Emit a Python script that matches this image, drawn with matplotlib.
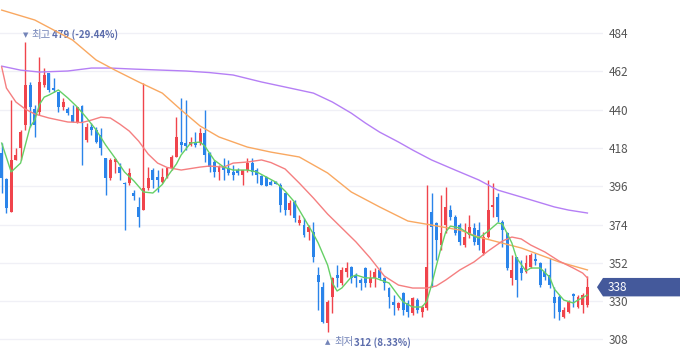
import numpy as np
import matplotlib.pyplot as plt
from matplotlib.patches import Polygon
from matplotlib import transforms

plt.rcParams['font.family'] = ['Noto Sans CJK KR', 'DejaVu Sans']

# daily candles (oldest -> newest)
opens = [415.1, 400.1, 381.2, 411.1, 418.0, 431.2, 454.1, 440.3, 438.6, 454.1,
         461.0, 452.4, 450.1, 441.5, 440.3, 436.9, 432.9, 442.1, 422.5, 430.0,
         428.3, 425.4, 412.2, 400.7, 410.0, 407.0, 397.8, 397.8, 392.1, 384.1,
         382.3, 395.0, 405.3, 401.3, 398.4, 401.3, 406.5, 412.8, 421.4, 420.8,
         419.7, 421.4, 420.8, 426.6, 415.1, 409.9, 404.2, 407.0, 406.5, 404.2,
         405.3, 402.4, 405.3, 409.3, 405.3, 401.9, 401.3, 398.4, 398.4, 396.7,
         392.1, 382.3, 386.9, 374.9, 373.7, 369.7, 369.7, 345.0, 338.1, 317.4,
         332.4, 345.0, 340.4, 346.7, 349.6, 345.0, 342.1, 349.0, 340.4, 343.3,
         347.9, 343.3, 337.5, 329.5, 326.0, 334.7, 328.9, 323.2, 330.6, 323.7,
         326.0, 381.2, 374.9, 362.2, 373.7, 382.3, 378.3, 373.7, 362.2, 368.0,
         372.0, 370.8, 357.6, 366.8, 384.1, 389.8, 375.4, 369.1, 343.3, 355.3,
         349.0, 346.7, 349.6, 354.2, 351.9, 346.7, 345.0, 332.4, 332.4, 320.9,
         323.7, 334.0, 326.6, 327.8, 327.8]
highs = [420.8, 400.7, 445.5, 418.0, 428.3, 479.0, 455.9, 442.6, 470.2, 463.9,
         461.0, 458.2, 450.1, 446.7, 441.5, 442.6, 441.5, 442.6, 432.3, 432.3,
         430.0, 429.4, 412.2, 412.2, 412.2, 409.3, 398.4, 406.5, 393.8, 389.8,
         455.3, 407.0, 406.5, 405.3, 406.5, 407.0, 413.9, 435.7, 446.7, 445.5,
         424.3, 427.1, 429.4, 439.8, 415.6, 411.1, 408.2, 412.2, 411.1, 408.2,
         406.5, 405.3, 412.2, 412.2, 406.5, 402.4, 401.9, 399.6, 399.0, 397.8,
         392.1, 388.1, 388.1, 379.5, 377.7, 373.7, 375.4, 349.6, 341.0, 330.6,
         343.8, 350.7, 349.6, 352.5, 350.1, 346.1, 343.3, 349.6, 347.9, 349.0,
         349.6, 343.8, 338.1, 333.5, 329.5, 335.2, 330.6, 332.4, 331.8, 327.8,
         396.7, 392.1, 375.4, 390.9, 395.5, 385.2, 379.5, 374.9, 374.9, 379.5,
         374.9, 375.4, 369.7, 399.6, 397.8, 392.1, 376.6, 369.7, 356.5, 355.3,
         353.6, 356.5, 357.6, 357.6, 352.5, 349.0, 354.8, 338.1, 333.5, 326.6,
         330.6, 334.7, 333.5, 334.7, 344.4]
lows = [392.1, 380.6, 381.2, 411.1, 411.1, 428.3, 430.0, 424.3, 436.9, 453.0,
        450.1, 450.1, 438.6, 439.8, 436.9, 432.9, 432.3, 408.2, 421.4, 425.4,
        420.8, 413.9, 390.9, 399.6, 403.6, 399.6, 370.8, 396.7, 388.1, 372.6,
        382.3, 393.8, 395.0, 392.7, 397.8, 401.0, 405.3, 412.8, 415.6, 416.8,
        419.1, 418.5, 419.7, 409.9, 404.2, 401.3, 399.6, 399.6, 402.4, 399.6,
        402.4, 396.7, 404.2, 402.4, 397.8, 396.7, 396.1, 396.7, 397.0, 381.2,
        379.5, 379.5, 375.4, 373.7, 366.8, 365.1, 352.5, 324.9, 317.4, 312.0,
        323.2, 338.1, 339.2, 343.8, 340.4, 338.1, 336.4, 338.1, 338.1, 338.1,
        342.1, 336.4, 326.0, 322.0, 324.9, 322.0, 320.9, 322.0, 323.2, 320.9,
        324.9, 338.1, 353.6, 359.4, 369.1, 376.6, 368.0, 362.2, 361.1, 366.2,
        362.2, 359.4, 356.5, 366.2, 378.3, 375.4, 361.1, 347.9, 339.2, 332.4,
        342.1, 346.1, 349.0, 350.7, 338.1, 342.1, 337.5, 320.3, 319.1, 320.3,
        323.2, 326.6, 326.0, 323.2, 326.6]
closes = [400.7, 383.5, 411.1, 413.9, 427.1, 454.1, 441.5, 431.2, 455.9, 459.9,
          451.3, 451.3, 441.5, 444.4, 438.0, 432.9, 441.5, 432.3, 430.0, 428.3,
          421.4, 418.0, 400.7, 411.1, 411.6, 403.6, 397.3, 403.6, 390.4, 378.3,
          395.0, 400.7, 399.6, 399.6, 401.3, 406.5, 412.8, 424.3, 419.7, 419.1,
          421.4, 419.7, 426.6, 413.9, 407.0, 404.2, 407.0, 405.3, 403.6, 402.4,
          403.6, 405.3, 409.3, 404.2, 402.4, 396.7, 396.1, 396.7, 397.3, 385.2,
          382.3, 386.4, 377.7, 376.6, 368.0, 372.6, 355.3, 341.0, 318.0, 329.5,
          343.3, 343.3, 347.9, 349.0, 343.3, 343.3, 340.4, 340.4, 343.3, 346.7,
          343.3, 340.4, 332.4, 327.8, 328.9, 324.9, 323.7, 331.8, 324.9, 326.6,
          349.6, 372.6, 365.1, 369.1, 384.1, 378.3, 369.1, 364.0, 366.8, 372.6,
          364.0, 362.2, 366.8, 382.3, 385.2, 378.3, 370.8, 349.0, 347.9, 342.1,
          346.1, 351.9, 356.5, 353.0, 339.2, 343.8, 339.2, 328.9, 323.7, 324.9,
          329.5, 332.9, 332.4, 333.5, 338.0]

# moving averages at these candle positions
ma5_x = [0, 2, 4, 6, 7, 8, 9, 10, 12, 14, 16, 18, 20, 22, 24, 26, 28, 30, 32, 34,
         35, 37, 38, 40, 42, 43, 45, 47, 49, 52, 54, 56, 58, 60, 62, 64, 66, 67, 69, 70,
         71, 72, 74, 75, 77, 79, 82, 84, 85, 87, 89, 90, 91, 92, 93, 94, 95, 97, 99, 101,
         103, 105, 106, 108, 109, 111, 112, 114, 116, 117, 119, 121, 122, 124]
ma5_y = [420.8, 404.2, 409.3, 430.0, 434.0, 443.0, 447.2, 448.4, 451.3, 446.7,
         441.5, 435.2, 428.3, 419.7, 412.2, 404.2, 399.0, 392.7, 392.1, 397.0,
         401.3, 408.8, 414.0, 420.8, 421.4, 419.0, 411.0, 407.0, 405.3, 405.3,
         404.2, 401.3, 398.4, 393.2, 386.9, 377.7, 368.5, 363.4, 350.7, 340.4,
         335.8, 337.5, 343.8, 345.0, 343.3, 343.3, 340.4, 333.0, 329.5, 326.6,
         326.6, 330.0, 339.2, 350.1, 360.5, 369.7, 373.1, 372.0, 368.5, 366.2,
         370.2, 374.9, 374.3, 363.4, 354.8, 347.3, 349.0, 349.0, 343.8, 336.9,
         330.6, 328.9, 330.6, 333.5]
ma20_x = [0, 1, 3, 5, 7, 10, 14, 17, 19, 21, 23, 25, 27, 29, 31, 33, 35, 38, 42, 44,
          47, 49, 52, 55, 57, 60, 63, 66, 69, 72, 75, 78, 81, 84, 87, 90, 92, 94, 97, 100,
          103, 106, 108, 110, 112, 115, 118, 121, 123, 124]
ma20_y = [464.5, 452.4, 444.4, 440.3, 437.5, 435.2, 432.9, 432.6, 434.0, 435.7,
          435.2, 431.7, 427.7, 421.9, 414.5, 409.3, 406.8, 405.3, 407.0, 407.6,
          407.0, 409.3, 409.9, 411.1, 409.6, 405.9, 397.8, 389.2, 380.0, 372.0,
          364.0, 354.8, 344.4, 339.2, 337.5, 337.5, 338.7, 342.1, 347.9, 352.5,
          358.8, 364.5, 366.8, 365.7, 362.2, 358.2, 353.0, 349.0, 346.1, 343.3]
ma60_x = [0, 7, 15, 20, 24, 29, 34, 38, 42, 46, 52, 57, 63, 69, 74, 80, 86, 91, 97,
          101, 105, 110, 114, 118, 124]
ma60_y = [497.2, 491.5, 480.0, 468.5, 462.7, 455.9, 449.5, 439.8, 430.6, 424.3,
          418.5, 415.6, 412.8, 403.6, 392.7, 384.1, 376.0, 373.7, 370.8, 366.8,
          364.0, 360.5, 356.5, 352.5, 347.9]
ma120_x = [0, 4, 8, 14, 19, 23, 28, 34, 39, 44, 49, 55, 60, 66, 70, 74, 77, 80, 84,
           87, 91, 96, 101, 105, 110, 117, 120, 124]
ma120_y = [465.0, 462.7, 461.6, 462.2, 463.9, 463.9, 463.3, 462.7, 462.2, 461.3,
           459.9, 455.9, 453.0, 449.5, 444.4, 438.0, 432.3, 427.1, 421.4, 416.8,
           411.1, 405.3, 399.6, 393.8, 389.8, 384.1, 382.3, 380.6]

y_ticks = [308, 330, 352, 374, 396, 418, 440, 462, 484]

UP = '#f0444c'
DOWN = '#2a84ea'

o = np.array(opens)
h = np.array(highs)
l = np.array(lows)
c = np.array(closes)
x = np.arange(len(c))
colors = np.where(c >= o, UP, DOWN)

fig = plt.figure(figsize=(6.8, 3.58), dpi=100)
ax = fig.add_axes([0, 0, 603 / 680, 1])

ax.vlines(x, l, h, colors=colors, linewidth=1, zorder=2)
ax.bar(x, np.maximum(np.abs(c - o), 0.6), bottom=np.minimum(o, c), width=0.62,
       color=colors, linewidth=0, zorder=3)

ax.plot(ma120_x, ma120_y, color='#b57ff5', lw=1, zorder=4, solid_joinstyle='round')
ax.plot(ma60_x, ma60_y, color='#f9a861', lw=1, zorder=4, solid_joinstyle='round')
ax.plot(ma20_x, ma20_y, color='#f57f80', lw=1, zorder=4, solid_joinstyle='round')
ax.plot(ma5_x, ma5_y, color='#66d066', lw=1, zorder=4, solid_joinstyle='round')

ax.set_xlim(-0.36, 127.3)
ax.set_ylim(297.3, 503)
ax.set_xticks([])
ax.set_yticks(y_ticks)
ax.yaxis.tick_right()
ax.tick_params(axis='y', length=0, pad=4, labelsize=8.5, labelcolor='#555555')
ax.grid(axis='y', color='#f0f0f6', linewidth=1)
ax.set_axisbelow(True)
for s in ax.spines.values():
    s.set_visible(False)

# high / low markers
last = closes[-1]
hi_i = int(np.argmax(h))
lo_i = int(np.argmin(l))
hi, lo = h[hi_i], l[lo_i]
lab_col = '#7384b8'
val_col = '#5c6dac'


def marker(i, v, arrow, label, dy):
    ax.annotate(arrow, xy=(i, v), xytext=(0, dy), textcoords='offset points',
                ha='center', va='center', fontsize=5, color=lab_col,
                family='DejaVu Sans')
    ax.annotate(label, xy=(i, v), xytext=(4.6, dy), textcoords='offset points',
                ha='left', va='center', fontsize=7.5, color=lab_col)
    ax.annotate('%d (%.2f%%)' % (v, (last - v) / v * 100), xy=(i, v),
                xytext=(19.3, dy), textcoords='offset points', ha='left',
                va='center', fontsize=7, color=val_col, fontweight='bold')


marker(hi_i, hi, '▼', '최고', 5)
marker(lo_i, lo, '▲', '최저', -7.2)

# last price tag on the right axis
tr = transforms.blended_transform_factory(ax.transAxes, ax.transData)
half = 5.3
tag = Polygon([(0.99, last), (1.0, last + half), (1.13, last + half),
               (1.13, last - half), (1.0, last - half)],
              closed=True, transform=tr, facecolor='#44599b', edgecolor='none',
              clip_on=False, zorder=6)
ax.add_patch(tag)
ax.text(1.008, last, '%d' % round(last), transform=tr, ha='left', va='center',
        fontsize=8.5, color='white', zorder=7)

plt.savefig('out.png', dpi=100)
